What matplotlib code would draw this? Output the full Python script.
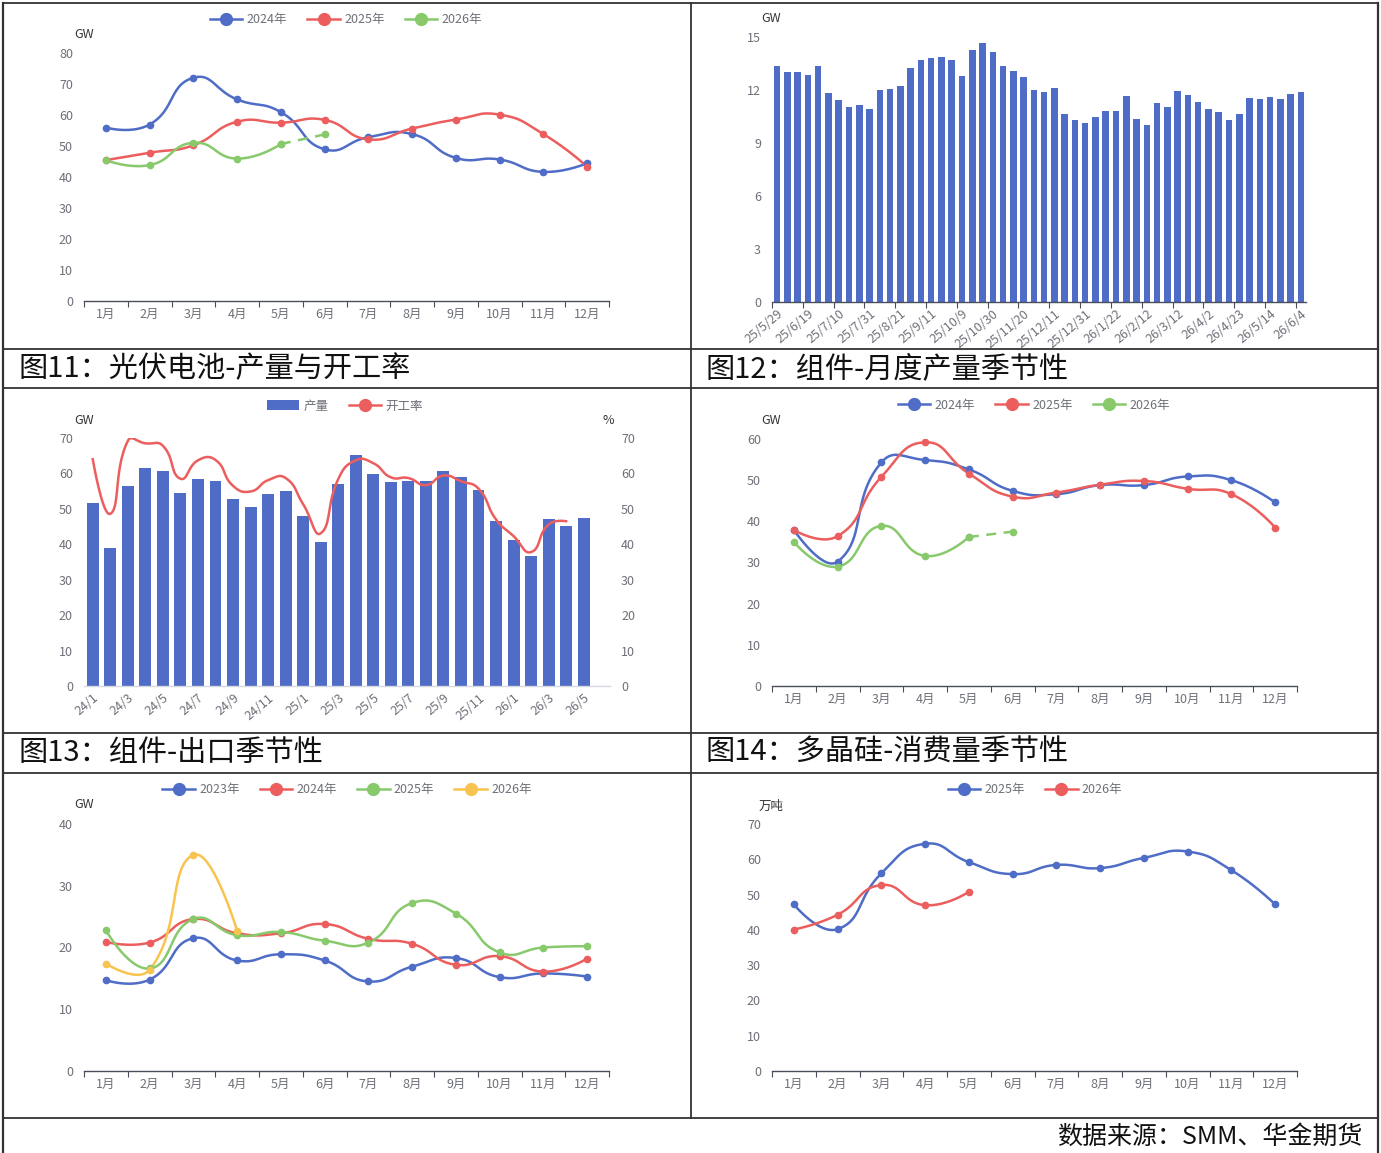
import numpy as np
import matplotlib
matplotlib.use("Agg")
import matplotlib.pyplot as plt
from matplotlib.lines import Line2D
from matplotlib.patches import Patch

plt.rcParams['font.family'] = ['Noto Sans CJK SC', 'DejaVu Sans']

W, H = 1381, 1153
months = ['1月', '2月', '3月', '4月', '5月', '6月', '7月', '8月', '9月', '10月', '11月', '12月']

# chart 1: 光伏电池 monthly output (GW)
c1_2024 = [56.0, 57.0, 72.1, 65.1, 61.0, 49.0, 52.9, 53.9, 46.2, 45.7, 41.7, 44.5]
c1_2025 = [45.5, 47.9, 50.3, 57.9, 57.6, 58.5, 52.2, 55.7, 58.6, 60.2, 53.9, 43.4]
c1_2026 = [45.5, 43.9, 51.1, 46.0, 50.7]
c1_2026_est = [50.7, 53.8]   # 5月 -> 6月 dashed

# chart 2: weekly output (GW)
c2_values = [13.32, 12.98, 13.02, 12.81, 13.36, 11.83, 11.43, 11.04, 11.11, 10.92,
             11.96, 12.02, 12.21, 13.23, 13.70, 13.79, 13.83, 13.70, 12.75, 14.26,
             14.64, 14.15, 13.36, 13.06, 12.70, 11.96, 11.87, 12.08, 10.60, 10.26,
             10.11, 10.47, 10.77, 10.79, 11.66, 10.32, 9.98, 11.26, 11.02, 11.91,
             11.70, 11.30, 10.92, 10.74, 10.26, 10.60, 11.51, 11.45, 11.58, 11.45,
             11.74, 11.87]
c2_ticklabels = ['25/5/29', '25/6/19', '25/7/10', '25/7/31', '25/8/21', '25/9/11',
                 '25/10/9', '25/10/30', '25/11/20', '25/12/11', '25/12/31', '26/1/22',
                 '26/2/12', '26/3/12', '26/4/2', '26/4/23', '26/5/14', '26/6/4']

# chart 3: monthly output (GW) and utilisation (%)
c3_months = ['24/1', '24/2', '24/3', '24/4', '24/5', '24/6', '24/7', '24/8', '24/9', '24/10',
             '24/11', '24/12', '25/1', '25/2', '25/3', '25/4', '25/5', '25/6', '25/7', '25/8',
             '25/9', '25/10', '25/11', '25/12', '26/1', '26/2', '26/3', '26/4', '26/5', '26/6']
c3_output = [51.6, 39.0, 56.5, 61.5, 60.8, 54.4, 58.4, 57.8, 52.8, 50.6,
             54.1, 55.1, 47.9, 40.7, 56.9, 65.3, 59.9, 57.7, 57.9, 58.0,
             60.7, 58.9, 55.3, 46.5, 41.1, 36.8, 47.2, 45.3, 47.5]
c3_rate = [64.0, 48.6, 69.2, 68.5, 67.8, 58.5, 63.7, 63.8, 56.5, 54.9,
           58.1, 58.7, 51.3, 43.1, 58.4, 63.7, 62.9, 58.9, 58.7, 56.7,
           59.4, 57.8, 55.7, 47.0, 42.3, 37.8, 45.6, 46.5]

# chart 4 (GW)
c4_2024 = [37.9, 30.2, 54.3, 54.9, 52.6, 47.4, 46.6, 48.8, 48.8, 50.9, 50.0, 44.6]
c4_2025 = [37.9, 36.4, 50.8, 59.2, 51.6, 46.0, 47.0, 48.9, 49.8, 47.9, 46.6, 38.5]
c4_2026 = [35.0, 29.0, 38.9, 31.6, 36.2]
c4_2026_est = [36.2, 37.5]

# chart 5: exports (GW)
c5_2023 = [14.7, 14.8, 21.5, 17.9, 18.9, 17.9, 14.5, 16.9, 18.3, 15.2, 15.8, 15.3]
c5_2024 = [20.9, 20.8, 24.6, 22.3, 22.3, 23.8, 21.4, 20.6, 17.2, 18.6, 16.1, 18.2]
c5_2025 = [22.8, 16.6, 24.6, 22.0, 22.5, 21.1, 20.8, 27.2, 25.5, 19.2, 20.0, 20.2]
c5_2026 = [17.4, 16.4, 35.0, 22.7]

# chart 6: polysilicon consumption (万吨)
c6_2025 = [47.2, 40.2, 56.0, 64.4, 59.2, 55.8, 58.4, 57.5, 60.4, 62.2, 56.9, 47.2]
c6_2026 = [40.1, 44.3, 52.7, 47.0, 50.8]

BLUE = '#4f6cc6'
RED = '#ec5e5e'
GREEN = '#88c96c'
YELLOW = '#f8c44f'
GRAY = '#6e7079'
AXIS = '#4a4e5a'
FS = 9


def smooth_curve(x, y, sx, sy, s=0.5, n=30):
    x = np.asarray(x, float)
    y = np.asarray(y, float)
    m = len(x)
    if m < 3:
        return x, y
    cin = np.column_stack([x, y]).copy()
    cout = np.column_stack([x, y]).copy()
    for i in range(1, m - 1):
        vx = x[i + 1] - x[i - 1]
        vy = y[i + 1] - y[i - 1]
        l0 = np.hypot((x[i] - x[i - 1]) * sx, (y[i] - y[i - 1]) * sy)
        l1 = np.hypot((x[i + 1] - x[i]) * sx, (y[i + 1] - y[i]) * sy)
        r = l1 / (l0 + l1)
        cin[i] = [x[i] - vx * s * (1 - r), y[i] - vy * s * (1 - r)]
        cout[i] = [x[i] + vx * s * r, y[i] + vy * s * r]
    t = np.linspace(0, 1, n)[:, None]
    pts = []
    for i in range(m - 1):
        p0 = np.array([x[i], y[i]])
        p3 = np.array([x[i + 1], y[i + 1]])
        b = ((1 - t) ** 3) * p0 + 3 * ((1 - t) ** 2) * t * cout[i] + 3 * (1 - t) * t ** 2 * cin[i + 1] + t ** 3 * p3
        pts.append(b if i == 0 else b[1:])
    pts = np.vstack(pts)
    return pts[:, 0], pts[:, 1]


def px_axes(x0, x1, y_top, y_bot):
    return fig.add_axes([x0 / W, 1 - y_bot / H, (x1 - x0) / W, (y_bot - y_top) / H])


def style_axes(ax, ymax, ystep):
    for sp in ['top', 'right', 'left']:
        ax.spines[sp].set_visible(False)
    ax.spines['bottom'].set_color(AXIS)
    ax.spines['bottom'].set_linewidth(1.0)
    ax.set_ylim(0, ymax)
    ax.set_yticks(np.arange(0, ymax + 0.1, ystep))
    ax.tick_params(axis='y', length=0, labelsize=FS, labelcolor=GRAY, pad=8)
    ax.tick_params(axis='x', labelsize=FS, labelcolor=GRAY, color=AXIS, length=4, direction='out')


def month_axes(ax, ymax, ystep):
    style_axes(ax, ymax, ystep)
    ax.set_xlim(-0.5, 11.5)
    ax.set_xticks(np.arange(-0.5, 12, 1.0))
    ax.set_xticklabels([])
    ax.set_xticks(np.arange(12), minor=True)
    ax.set_xticklabels(months, minor=True)
    ax.tick_params(axis='x', which='minor', length=0, pad=5, labelsize=FS, labelcolor=GRAY)


def plot_smooth(ax, y, color, x0=0, dashed=False, sx=43.75, sy=3.0):
    x = np.arange(len(y)) + x0
    xs, ys = smooth_curve(x, y, sx, sy)
    ax.plot(xs, ys, color=color, lw=1.8, ls=(0, (4, 3)) if dashed else '-', solid_capstyle='round', zorder=3)
    ax.plot(x, y, 'o', color=color, ms=4.5, zorder=4)


def line_legend(labels, colors, cx, cy):
    handles = [Line2D([0], [0], color=c, lw=1.8, marker='o', ms=8.5) for c in colors]
    fig.legend(handles, labels, loc='center', bbox_to_anchor=(cx / W, 1 - cy / H), ncol=len(labels),
               frameon=False, fontsize=FS, labelcolor=GRAY, handlelength=2.6, handletextpad=0.35,
               columnspacing=1.6)


fig = plt.figure(figsize=(W / 100, H / 100), dpi=100)

# background frame and titles
bg = fig.add_axes([0, 0, 1, 1], zorder=-5)
bg.set_xlim(0, W)
bg.set_ylim(H, 0)
bg.axis('off')
lc = '#333333'
for yy in [3, 349, 388, 733, 773, 1118]:
    bg.plot([3, 1378], [yy, yy], color=lc, lw=1.3)
bg.plot([3, 3], [3, H], color=lc, lw=1.6)
bg.plot([1378, 1378], [3, H], color=lc, lw=1.6)
bg.plot([691, 691], [3, 1118], color=lc, lw=1.3)
tfs = 21
bg.text(19, 369, '图11：光伏电池-产量与开工率', fontsize=tfs, va='center', ha='left', color='#111111')
bg.text(706, 369, '图12：组件-月度产量季节性', fontsize=tfs, va='center', ha='left', color='#111111')
bg.text(19, 753, '图13：组件-出口季节性', fontsize=tfs, va='center', ha='left', color='#111111')
bg.text(706, 753, '图14：多晶硅-消费量季节性', fontsize=tfs, va='center', ha='left', color='#111111')
bg.text(1362, 1137, '数据来源：SMM、华金期货', fontsize=18, va='center', ha='right', color='#111111')

# ---- chart 1
ax1 = px_axes(84, 609, 53.3, 301)
month_axes(ax1, 80, 10)
plot_smooth(ax1, c1_2024, BLUE, sy=3.09)
plot_smooth(ax1, c1_2025, RED, sy=3.09)
plot_smooth(ax1, c1_2026, GREEN, sy=3.09)
plot_smooth(ax1, c1_2026_est, GREEN, x0=4, dashed=True, sy=3.09)
bg.text(84, 35, 'GW', fontsize=FS, color='#333333', ha='center', va='center')
line_legend(['2024年', '2025年', '2026年'], [BLUE, RED, GREEN], 346, 20)

# ---- chart 2
ax2 = px_axes(772, 1306, 36.7, 301.7)
style_axes(ax2, 15, 3)
n2 = len(c2_values)
ax2.bar(np.arange(n2), c2_values, width=0.64, color=BLUE, zorder=2)
ax2.set_xlim(-0.5, n2 - 0.5)
ax2.set_xticks(np.arange(-0.5, n2, 3))
ax2.set_xticklabels([])
ax2.set_xticks(np.arange(0, n2, 3), minor=True)
ax2.set_xticklabels(c2_ticklabels, minor=True, rotation=40, ha='right', rotation_mode='anchor')
ax2.tick_params(axis='x', which='minor', length=0, pad=4, labelsize=FS, labelcolor=GRAY)
bg.text(771, 18, 'GW', fontsize=FS, color='#333333', ha='center', va='center')

# ---- chart 3
ax3 = px_axes(84, 610, 438, 686)
style_axes(ax3, 70, 10)
ax3.spines['bottom'].set_color('#d5d8e0')
n3 = len(c3_months)
ax3.bar(np.arange(len(c3_output)), c3_output, width=0.68, color=BLUE, zorder=2)
ax3.set_xlim(-0.5, n3 - 0.5)
ax3.set_xticks(np.arange(0, n3, 2))
ax3.set_xticklabels(c3_months[::2], rotation=40, ha='right', rotation_mode='anchor')
ax3.tick_params(axis='x', length=0, pad=4)
ax3r = ax3.twinx()
for sp in ['top', 'right', 'left', 'bottom']:
    ax3r.spines[sp].set_visible(False)
ax3r.set_ylim(0, 70)
ax3r.set_yticks(np.arange(0, 71, 10))
ax3r.tick_params(axis='y', length=0, labelsize=FS, labelcolor=GRAY, pad=8)
xs, ys = smooth_curve(np.arange(len(c3_rate)), c3_rate, 17.5, 3.54)
ax3r.plot(xs, ys, color=RED, lw=1.8, zorder=3)
bg.text(84, 420, 'GW', fontsize=FS, color='#333333', ha='center', va='center')
bg.text(608, 420, '%', fontsize=FS, color='#333333', ha='center', va='center')
fig.legend([Patch(facecolor=BLUE, edgecolor='none'),
            Line2D([0], [0], color=RED, lw=1.8, marker='o', ms=8.5)],
           ['产量', '开工率'], loc='center', bbox_to_anchor=(345 / W, 1 - 406 / H), ncol=2,
           frameon=False, fontsize=FS, labelcolor=GRAY, handlelength=2.6, handleheight=0.9,
           handletextpad=0.35, columnspacing=1.6)

# ---- chart 4
ax4 = px_axes(772, 1297, 439, 686)
month_axes(ax4, 60, 10)
plot_smooth(ax4, c4_2024, BLUE, sy=4.12)
plot_smooth(ax4, c4_2025, RED, sy=4.12)
plot_smooth(ax4, c4_2026, GREEN, sy=4.12)
plot_smooth(ax4, c4_2026_est, GREEN, x0=4, dashed=True, sy=4.12)
bg.text(771, 420, 'GW', fontsize=FS, color='#333333', ha='center', va='center')
line_legend(['2024年', '2025年', '2026年'], [BLUE, RED, GREEN], 1034, 405)

# ---- chart 5
ax5 = px_axes(84, 609, 824, 1071)
month_axes(ax5, 40, 10)
plot_smooth(ax5, c5_2023, BLUE, sy=6.18)
plot_smooth(ax5, c5_2024, RED, sy=6.18)
plot_smooth(ax5, c5_2025, GREEN, sy=6.18)
plot_smooth(ax5, c5_2026, YELLOW, sy=6.18)
bg.text(84, 805, 'GW', fontsize=FS, color='#333333', ha='center', va='center')
line_legend(['2023年', '2024年', '2025年', '2026年'], [BLUE, RED, GREEN, YELLOW], 347, 790)

# ---- chart 6
ax6 = px_axes(772, 1297, 824, 1071)
month_axes(ax6, 70, 10)
plot_smooth(ax6, c6_2025, BLUE, sy=3.53)
plot_smooth(ax6, c6_2026, RED, sy=3.53)
bg.text(771, 806, '万吨', fontsize=FS, color='#333333', ha='center', va='center')
line_legend(['2025年', '2026年'], [BLUE, RED], 1035, 790)

fig.savefig('out.png', dpi=100)
